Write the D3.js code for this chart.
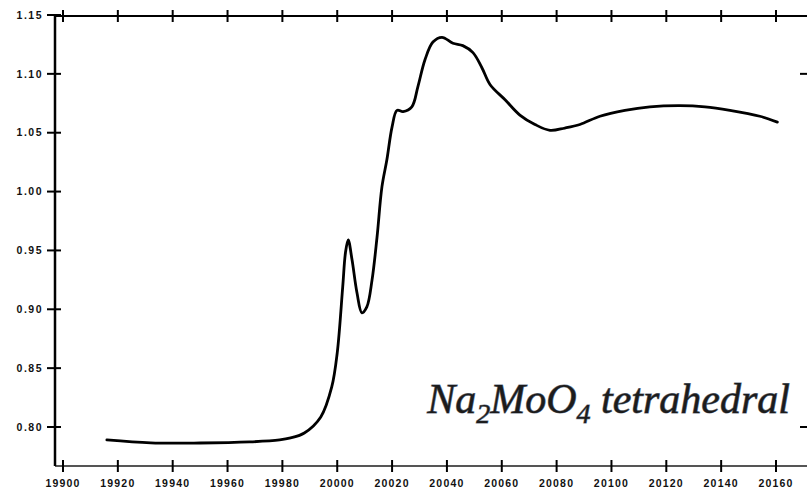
<!DOCTYPE html>
<html>
<head>
<meta charset="utf-8">
<script src="https://cdn.jsdelivr.net/npm/d3@7"></script>
<style>
  html, body { margin: 0; padding: 0; background: #fff; }
  svg { display: block; }
</style>
</head>
<body>
<svg id="chart" width="807" height="489"></svg>
<script>
// Mo K-edge XANES of Na2MoO4 (energy in eV, normalised absorption)
const energy = [19916, 19932, 19950, 19968, 19979, 19983, 19988, 19994, 19998, 20000,
  20002, 20003, 20004, 20005.4, 20007.2, 20009, 20010.8, 20012.7, 20014.5, 20016.3,
  20018.1, 20020, 20021.8, 20024, 20027.2, 20029.4, 20032, 20034.9, 20038.2, 20042.2,
  20045.8, 20049.5, 20052.8, 20055.7, 20061.2, 20066.6, 20072.1, 20077.6, 20083, 20088.5,
  20095.8, 20104.9, 20114, 20124.9, 20134.1, 20143.2, 20154.1, 20160.5];
const absorbance = [0.789, 0.7865, 0.7864, 0.7873, 0.789, 0.7907, 0.7949, 0.8085, 0.834, 0.863,
  0.919, 0.948, 0.959, 0.942, 0.914, 0.897, 0.902, 0.925, 0.961, 1.004,
  1.027, 1.055, 1.069, 1.068, 1.072, 1.089, 1.112, 1.127, 1.131, 1.126,
  1.124, 1.118, 1.105, 1.091, 1.078, 1.065, 1.057, 1.052, 1.054, 1.057,
  1.064, 1.069, 1.072, 1.073, 1.072, 1.069, 1.064, 1.059];

const xTickValues = [19900, 19920, 19940, 19960, 19980, 20000, 20020, 20040, 20060,
  20080, 20100, 20120, 20140, 20160];
const yTickValues = [0.80, 0.85, 0.90, 0.95, 1.00, 1.05, 1.10, 1.15];
const yTickLabels = ["0.80", "0.85", "0.90", "0.95", "1.00", "1.05", "1.10", "1.15"];
const rightTickValues = [0.80, 1.10];
const sampleLabel = ["Na", "2", "MoO", "4", " tetrahedral"];

const svg = d3.select("#chart");
const W = 807, H = 489;

const x = d3.scaleLinear().domain([19900, 20160]).range([63, 776]);
const y = d3.scaleLinear().domain([0.80, 1.15]).range([427, 15]);

const frameLeft = 55, frameTop = 16, frameBottom = 466;
const labelFont = "'Liberation Sans', Arial, sans-serif";

// frame lines
svg.append("line").attr("x1", frameLeft).attr("x2", W).attr("y1", frameTop).attr("y2", frameTop)
  .attr("stroke", "#000").attr("stroke-width", 2);
svg.append("line").attr("x1", frameLeft).attr("x2", W).attr("y1", frameBottom).attr("y2", frameBottom)
  .attr("stroke", "#555").attr("stroke-width", 2);
svg.append("line").attr("x1", frameLeft).attr("x2", frameLeft).attr("y1", frameTop - 1).attr("y2", frameBottom)
  .attr("stroke", "#000").attr("stroke-width", 2.5);

// x ticks on bottom and top
xTickValues.forEach(v => {
  svg.append("line").attr("x1", x(v)).attr("x2", x(v)).attr("y1", frameBottom - 6).attr("y2", frameBottom + 6)
    .attr("stroke", "#000").attr("stroke-width", 2);
  svg.append("line").attr("x1", x(v)).attr("x2", x(v)).attr("y1", frameTop - 6).attr("y2", frameTop + 6)
    .attr("stroke", "#000").attr("stroke-width", 2);
  svg.append("text").attr("x", x(v)).attr("y", 487)
    .attr("text-anchor", "middle")
    .attr("font-family", labelFont).attr("font-weight", "bold").attr("font-size", 10.5)
    .attr("letter-spacing", 1.2).attr("fill", "#111")
    .text(v);
});

// y ticks and labels
yTickValues.forEach((v, i) => {
  svg.append("line").attr("x1", frameLeft - 8).attr("x2", frameLeft + 6).attr("y1", y(v)).attr("y2", y(v))
    .attr("stroke", "#000").attr("stroke-width", 2);
  svg.append("text").attr("x", 43).attr("y", y(v)).attr("dy", "0.35em")
    .attr("text-anchor", "end")
    .attr("font-family", labelFont).attr("font-weight", "bold").attr("font-size", 10.5)
    .attr("letter-spacing", 1.5).attr("fill", "#111")
    .text(yTickLabels[i]);
});

// right frame ticks
rightTickValues.forEach(v => {
  svg.append("line").attr("x1", W - 7).attr("x2", W).attr("y1", y(v)).attr("y2", y(v))
    .attr("stroke", "#000").attr("stroke-width", 2);
});

// spectrum
const pts = energy.map((e, i) => [e, absorbance[i]]);
const line = d3.line().x(d => x(d[0])).y(d => y(d[1])).curve(d3.curveCatmullRom.alpha(0.5));
svg.append("path").datum(pts).attr("d", line)
  .attr("fill", "none").attr("stroke", "#000").attr("stroke-width", 2.8)
  .attr("stroke-linejoin", "round").attr("stroke-linecap", "round");

// sample label with subscripts
const lab = svg.append("text").attr("x", 790).attr("y", 413)
  .attr("text-anchor", "end")
  .attr("font-family", "'Liberation Serif', 'Times New Roman', serif")
  .attr("font-style", "italic").attr("font-size", 42)
  .attr("fill", "#1c1c1c").attr("stroke", "#6f7888").attr("stroke-width", 1)
  .attr("paint-order", "stroke");
sampleLabel.forEach((s, i) => {
  const t = lab.append("tspan").text(s);
  if (i === 1 || i === 3) t.attr("font-size", 28).attr("dy", 10);
  else if (i === 2 || i === 4) t.attr("dy", -10);
});
</script>
</body>
</html>
